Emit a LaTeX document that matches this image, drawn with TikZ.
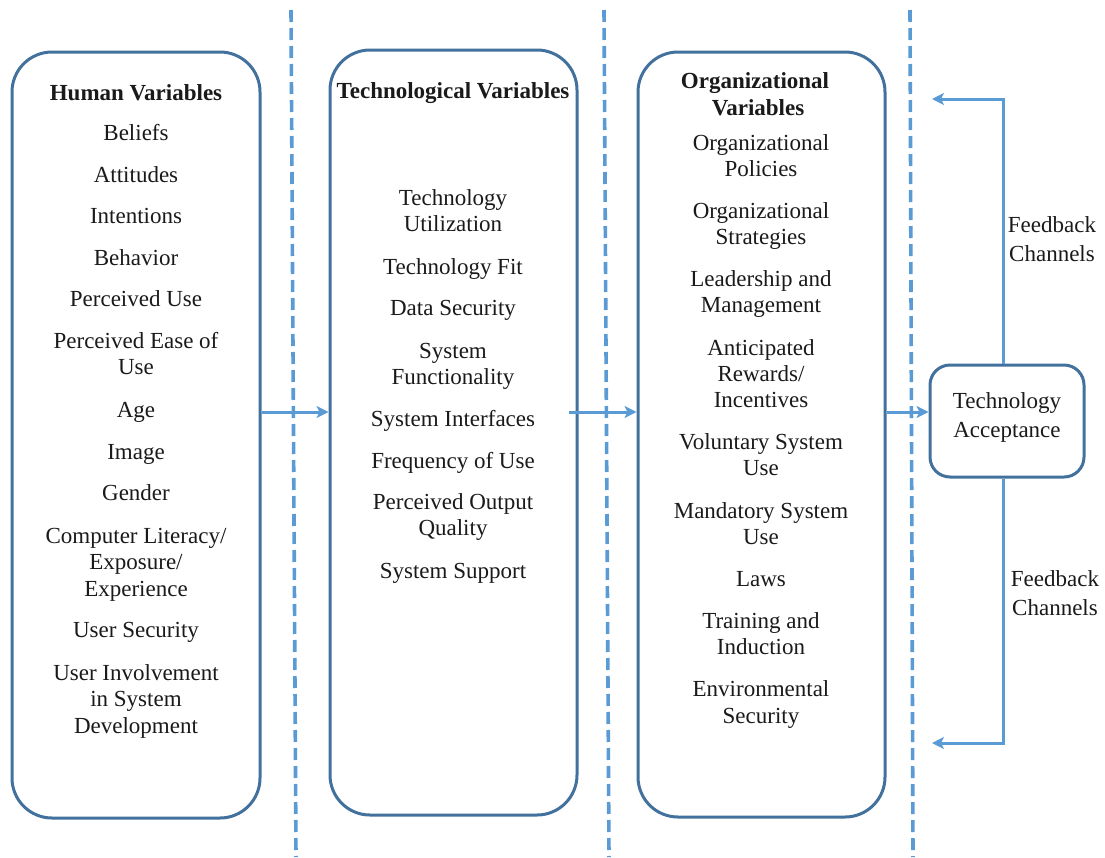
\documentclass[tikz,border=0pt]{standalone}
\usepackage{fontspec}
\setmainfont{Liberation Serif}
\usetikzlibrary{arrows.meta,calc}
\definecolor{boxblue}{HTML}{41719C}
\definecolor{lineblue}{HTML}{5B9BD5}
\definecolor{txtcol}{HTML}{1A1A1A}
\begin{document}
\begin{tikzpicture}[x=1pt,y=-1pt,
  varbox/.style={draw=boxblue,line width=3pt,rounded corners=40pt,inner sep=0pt},
  accbox/.style={draw=boxblue,line width=3pt,rounded corners=20pt,inner sep=0pt},
  txt/.style={anchor=base,inner sep=0pt,text=txtcol,font=\fontsize{23}{26}\selectfont},
  hdr/.style={txt,font=\fontsize{23}{26}\selectfont\bfseries},
  divider/.style={draw=lineblue,line width=3.6pt,dash pattern=on 12pt off 6pt},
  arr/.style={draw=lineblue,line width=3pt,-{Stealth[length=12pt,width=12pt,inset=3pt]}}]
\useasboundingbox (0,0) rectangle (1105,857);
\fill[white] (0,0) rectangle (1105,857);

% dividers
\coordinate (d1t) at (291,10); \coordinate (d1b) at (296,857);
\coordinate (d2t) at (604,10); \coordinate (d2b) at (609,857);
\coordinate (d3t) at (910,10); \coordinate (d3b) at (913,857);
\draw[divider] (d1t) -- (d1b);
\draw[divider] (d2t) -- (d2b);
\draw[divider] (d3t) -- (d3b);

% boxes
\node[varbox,minimum width=248pt,minimum height=766pt] (b1) at (136,435) {};
\node[varbox,minimum width=247pt,minimum height=765pt] (b2) at (453.5,432.5) {};
\node[varbox,minimum width=247pt,minimum height=765pt] (b3) at (761.5,434.5) {};
\node[accbox,minimum width=154pt,minimum height=112pt] (ta) at (1007,421) {};

% Human variables
\node[hdr] (h0) at (136,100) {Human Variables};
\node[txt] (h1) at (136,140) {Beliefs};
\node[txt] (h2) at (136,182) {Attitudes};
\node[txt] (h3) at (136,223) {Intentions};
\node[txt] (h4) at (136,265) {Behavior};
\node[txt] (h5) at (136,306) {Perceived Use};
\node[txt] (h6) at (136,348) {Perceived Ease of};
\node[txt] (h6b) at (136,374) {Use};
\node[txt] (h7) at (136,417) {Age};
\node[txt] (h8) at (136,459) {Image};
\node[txt] (h9) at (136,500) {Gender};
\node[txt] (h10) at (136,543) {Computer Literacy/};
\node[txt] (h10b) at (136,569) {Exposure/};
\node[txt] (h10c) at (136,596) {Experience};
\node[txt] (h11) at (136,637) {User Security};
\node[txt] (h12) at (136,680) {User Involvement};
\node[txt] (h12b) at (136,706) {in System};
\node[txt] (h12c) at (136,733) {Development};

% Technological variables
\node[hdr] (t0) at (453,98) {Technological Variables};
\node[txt] (t1) at (453,205) {Technology};
\node[txt] (t1b) at (453,231) {Utilization};
\node[txt] (t2) at (453,274) {Technology Fit};
\node[txt] (t3) at (453,315) {Data Security};
\node[txt] (t4) at (453,358) {System};
\node[txt] (t4b) at (453,384) {Functionality};
\node[txt] (t5) at (453,426) {System Interfaces};
\node[txt] (t6) at (453,468) {Frequency of Use};
\node[txt] (t7) at (453,509) {Perceived Output};
\node[txt] (t7b) at (453,535) {Quality};
\node[txt] (t8) at (453,578) {System Support};

% Organizational variables
\node[hdr] (o0) at (755,88) {Organizational};
\node[hdr] (o0b) at (758,115) {Variables};
\node[txt] (o1) at (761,150) {Organizational};
\node[txt] (o1b) at (761,176) {Policies};
\node[txt] (o2) at (761,218) {Organizational};
\node[txt] (o2b) at (761,244) {Strategies};
\node[txt] (o3) at (761,286) {Leadership and};
\node[txt] (o3b) at (761,312) {Management};
\node[txt] (o4) at (761,355) {Anticipated};
\node[txt] (o4b) at (761,381) {Rewards/};
\node[txt] (o4c) at (761,407) {Incentives};
\node[txt] (o5) at (761,449) {Voluntary System};
\node[txt] (o5b) at (761,475) {Use};
\node[txt] (o6) at (761,518) {Mandatory System};
\node[txt] (o6b) at (761,544) {Use};
\node[txt] (o7) at (761,586) {Laws};
\node[txt] (o8) at (761,628) {Training and};
\node[txt] (o8b) at (761,654) {Induction};
\node[txt] (o9) at (761,696) {Environmental};
\node[txt] (o9b) at (761,723) {Security};

% Technology acceptance
\node[txt] (a1) at (1007,408) {Technology};
\node[txt] (a2) at (1007,437) {Acceptance};

% feedback labels
\node[txt] (f1) at (1052,232) {Feedback};
\node[txt] (f1b) at (1052,261) {Channels};
\node[txt] (f2) at (1055,586) {Feedback};
\node[txt] (f2b) at (1055,615) {Channels};

% connectors
\coordinate (ay) at (0,412);
\draw[arr] (b1.east |- ay) -- (b2.west |- ay);
\draw[arr] ($(b2.east |- ay)+(-10,0)$) -- (b3.west |- ay);
\draw[arr] (b3.east |- ay) -- (ta.west |- ay);
\coordinate (fbt) at (932,99);
\coordinate (fbb) at (932,743);
\draw[arr,rounded corners=0pt] ([xshift=-4pt]ta.north) |- (fbt);
\draw[arr,rounded corners=0pt] ([xshift=-4pt]ta.south) |- (fbb);
\end{tikzpicture}
\end{document}
